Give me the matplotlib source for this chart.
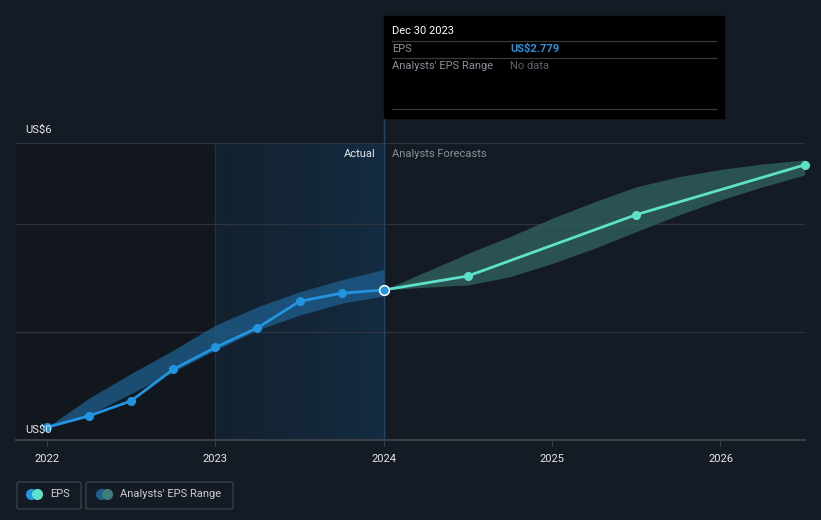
import matplotlib
matplotlib.use("Agg")
import matplotlib.pyplot as plt
import numpy as np
from matplotlib.patches import Rectangle, FancyBboxPatch
from matplotlib.lines import Line2D

plt.rcParams['font.family'] = ['Roboto', 'DejaVu Sans']

# actual EPS, quarterly
act_x = [2022.0, 2022.25, 2022.5, 2022.75, 2023.0, 2023.25, 2023.5, 2023.75, 2024.0]
act_eps = [-0.23, 0.02, 0.35, 1.04, 1.52, 1.95, 2.53, 2.71, 2.779]
act_hi = [-0.23, 0.41, 0.95, 1.46, 2.01, 2.41, 2.74, 3.00, 3.23]
act_lo = [-0.23, 0.04, 0.51, 0.99, 1.46, 1.90, 2.23, 2.49, 2.65]

# analyst forecasts
fc_x = [2024.0, 2024.5, 2025.5, 2026.5]
fc_eps = [2.779, 3.085, 4.43, 5.52]
rng_x = [2024.0, 2024.25, 2024.5, 2024.75, 2025.0, 2025.25, 2025.5, 2025.75, 2026.0, 2026.25, 2026.5]
rng_hi = [2.779, 3.18, 3.58, 3.95, 4.35, 4.71, 5.04, 5.26, 5.42, 5.54, 5.63]
rng_lo = [2.779, 2.84, 2.89, 3.07, 3.36, 3.69, 4.06, 4.42, 4.75, 5.04, 5.30]

years = [2022, 2023, 2024, 2025, 2026]
grid_vals = [1.86, 4.22, 6.0]

BG = '#151b25'
BLUE = '#2394df'
TEAL = '#5ee1c9'

W, H = 821, 520
fig = plt.figure(figsize=(W / 100, H / 100), dpi=100, facecolor=BG)
ax = fig.add_axes([16 / W, 1 - 440 / H, (805 - 16) / W, (440 - 143) / H])
ax.set_facecolor(BG)
xmin, xmax = 2021.816, 2026.502
ymin, ymax = -0.508, 6.0
ax.set_xlim(xmin, xmax)
ax.set_ylim(ymin, ymax)
for s in ax.spines.values():
    s.set_visible(False)

# past region shading
ax.add_patch(Rectangle((xmin, ymin), 2023 - xmin, ymax - ymin, color='#12171e', zorder=0, lw=0))
grad = np.linspace(0, 1, 256).reshape(1, -1)
cmap = matplotlib.colors.LinearSegmentedColormap.from_list('g', ['#14212e', '#132b41'])
ax.imshow(grad, extent=(2023, 2024, ymin, ymax), aspect='auto', cmap=cmap, zorder=0.5)
ax.axvline(2023, color='#1a3349', lw=1, zorder=0.6)

for g in grid_vals:
    ax.axhline(g, color='#2e343d', lw=0.9, zorder=1)
ax.axhline(ymin, color='#3a3f48', lw=1.5, zorder=1, clip_on=False)

# now line
ax.plot([2024, 2024], [ymin, 6.55], color='#1c4a6e', lw=1, zorder=1.5, clip_on=False)

# bands
ax.fill_between(act_x, act_lo, act_hi, color='#1f5f8f', alpha=0.75, lw=0, zorder=2)
ax.fill_between(rng_x, rng_lo, rng_hi, color='#2e5d5a', alpha=0.85, lw=0, zorder=2)

# lines
ax.plot(act_x, act_eps, color=BLUE, lw=2, marker='o', ms=5.5, zorder=4)
ax.plot(fc_x, fc_eps, color=TEAL, lw=2, marker='o', ms=5.5, zorder=4, clip_on=False)
ax.plot([2024], [2.779], marker='o', ms=7, color=BLUE, mec='white', mew=1.1, zorder=5)

ax.set_xticks(years)
ax.set_xticklabels([str(y) for y in years], color='#e6e8eb', fontsize=8)
ax.tick_params(axis='x', length=4, color='#3a3f48', pad=6)
ax.set_yticks([])

ax.text(2024 - 0.05, 5.75, 'Actual', ha='right', va='center', color='#e6e8eb', fontsize=8)
ax.text(2024 + 0.05, 5.75, 'Analysts Forecasts', ha='left', va='center', color='#8a8f98', fontsize=8)

fig.text(25 / W, 1 - 130 / H, 'US$6', color='#e6e8eb', fontsize=8, va='center')
fig.text(25 / W, 1 - 430 / H, 'US$0', color='#e6e8eb', fontsize=8, va='center')

# tooltip
fig.patches.append(Rectangle((384 / W, 1 - 118 / H), 340 / W, 102 / H, transform=fig.transFigure,
                             color='black', zorder=10))
for yy in [41, 58, 109]:
    fig.add_artist(Line2D([392 / W, 716 / W], [1 - yy / H] * 2, color='#3a3a3a', lw=0.9, zorder=11))
fig.text(392 / W, 1 - 31 / H, 'Dec 30 2023', color='white', fontsize=8, va='center', zorder=12)
fig.text(392 / W, 1 - 49 / H, 'EPS', color='#8a8f98', fontsize=8, va='center', zorder=12)
fig.text(510 / W, 1 - 49 / H, 'US$2.779', color=BLUE, fontsize=8, fontweight='bold', va='center', zorder=12)
fig.text(392 / W, 1 - 66 / H, "Analysts' EPS Range", color='#8a8f98', fontsize=8, va='center', zorder=12)
fig.text(510 / W, 1 - 66 / H, 'No data', color='#5f646c', fontsize=8, va='center', zorder=12)

# legend
for x0, x1 in [(17, 81), (86, 233)]:
    fig.patches.append(FancyBboxPatch((x0 / W, 1 - 509 / H), (x1 - x0) / W, 27 / H,
                                      boxstyle='round,pad=0,rounding_size=0.003', transform=fig.transFigure,
                                      fc='none', ec='#3a3f48', lw=1))
ly = 1 - 494 / H
fig.add_artist(Line2D([31 / W], [ly], marker='o', ms=7, color=BLUE, lw=0))
fig.add_artist(Line2D([37 / W], [ly], marker='o', ms=7, color=TEAL, lw=0))
fig.text(50 / W, ly, 'EPS', color='#c8cbd0', fontsize=8, va='center')
fig.add_artist(Line2D([101 / W], [ly], marker='o', ms=7, color='#1f5f8f', lw=0))
fig.add_artist(Line2D([107 / W], [ly], marker='o', ms=7, color='#3d7f78', lw=0))
fig.text(120 / W, ly, "Analysts' EPS Range", color='#c8cbd0', fontsize=8, va='center')

fig.savefig('out.png', dpi=100, facecolor=BG)
